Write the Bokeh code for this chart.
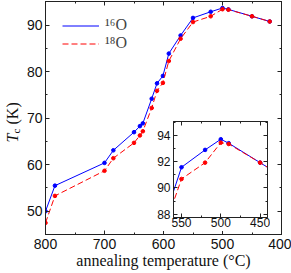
import math
from bokeh.plotting import figure
from bokeh.models import (Range1d, LinearAxis, SingleIntervalTicker, Legend, LegendItem,
                          Label, CustomJSTickFormatter)
from bokeh.embed import file_html
from bokeh.resources import INLINE
from bokeh.core.validation import silence
from bokeh.core.validation.warnings import MISSING_RENDERERS

silence(MISSING_RENDERERS, True)

# ---- data ----
temps = [800, 784, 700, 685, 650, 640, 635, 620, 611, 601, 591, 571, 550, 520, 500, 490, 450, 420]
tc_16O = [50.0, 55.5, 60.4, 63.1, 67.0, 68.3, 68.9, 74.2, 77.5, 79.1, 83.9, 87.8, 91.57, 92.89, 93.7, 93.4, 91.92, 90.8]
tc_18O = [47.5, 53.3, 58.7, 61.4, 64.7, 66.3, 67.2, 72.2, 75.9, 77.6, 82.3, 87.1, 90.68, 91.92, 93.44, 93.34, 91.92, 90.8]
series_labels = ["\u00b9\u2076O", "\u00b9\u2078O"]
x_label = "annealing temperature (\u00b0C)"

BLUE = "#0000ff"
RED = "#ff0000"
AX = "#222222"
SANS = "Liberation Sans"
SERIF = "Liberation Serif"


def style_axis(ax, major, minor_n, font_size, standoff, show_labels=True):
    ax.ticker = SingleIntervalTicker(interval=major, num_minor_ticks=minor_n)
    ax.major_tick_in = 4
    ax.major_tick_out = 0
    ax.minor_tick_in = 2
    ax.minor_tick_out = 0
    ax.axis_line_color = AX
    ax.major_tick_line_color = AX
    ax.minor_tick_line_color = AX
    ax.major_label_text_font = SANS
    ax.major_label_text_color = "#111111"
    ax.major_label_standoff = standoff
    if show_labels:
        ax.major_label_text_font_size = font_size
    else:
        ax.formatter = CustomJSTickFormatter(code="return ''")
        ax.major_label_text_font_size = "0px"
        ax.major_label_standoff = 0


# ---- main figure ----
p = figure(width=291, height=273, output_backend="svg", toolbar_location=None,
           x_range=Range1d(800, 400), y_range=Range1d(45, 95.1),
           min_border_left=45, min_border_right=10, min_border_top=1, min_border_bottom=39,
           background_fill_color="white", border_fill_color="white",
           styles={"position": "absolute", "left": "0px", "top": "0px"})
p.grid.visible = False
p.outline_line_color = AX
style_axis(p.xaxis[0], 100, 2, "14px", 4)
style_axis(p.yaxis[0], 10, 2, "14px", 3)
p.xaxis[0].axis_label = x_label
p.xaxis[0].axis_label_text_font = SERIF
p.xaxis[0].axis_label_text_font_style = "normal"
p.xaxis[0].axis_label_text_font_size = "16px"
p.xaxis[0].axis_label_text_color = "#111111"
p.xaxis[0].axis_label_standoff = 0

top_ax = LinearAxis()
style_axis(top_ax, 100, 2, "0px", 0, show_labels=False)
p.add_layout(top_ax, "above")
right_ax = LinearAxis()
style_axis(right_ax, 10, 2, "0px", 0, show_labels=False)
p.add_layout(right_ax, "right")

MS = 3.6
l16 = p.line(temps, tc_16O, line_color=BLUE, line_width=1)
p.scatter(temps, tc_16O, size=MS, fill_color=BLUE, line_color=BLUE)
l18 = p.line(temps, tc_18O, line_color=RED, line_width=1, line_dash="6 3")
p.scatter(temps, tc_18O, size=MS, fill_color=RED, line_color=RED)

legend = Legend(items=[LegendItem(label=series_labels[0], renderers=[l16]),
                       LegendItem(label=series_labels[1], renderers=[l18])],
                location=(17, 182), padding=0, margin=0, spacing=0,
                glyph_width=37, glyph_height=17, label_height=17, label_standoff=6,
                label_text_font=SERIF, label_text_font_size="16px",
                border_line_color=None, background_fill_alpha=0)
p.add_layout(legend, "center")

# ---- y axis title (italic T, subscript c, (K)) in a small transparent overlay figure ----
t = figure(width=24, height=50, output_backend="svg", toolbar_location=None,
           x_range=Range1d(0, 1), y_range=Range1d(0, 1),
           x_axis_location=None, y_axis_location=None,
           min_border_left=0, min_border_right=0, min_border_top=0, min_border_bottom=0,
           background_fill_alpha=0, border_fill_alpha=0, outline_line_color=None,
           styles={"position": "absolute", "left": "0px", "top": "96px"})
t.grid.visible = False
common = dict(x_units="screen", y_units="screen", angle=math.pi / 2,
              text_font=SERIF, text_color="#111111", text_baseline="alphabetic", text_align="left")
t.add_layout(Label(x=12, y=4, text="T", text_font_size="16px", text_font_style="italic", **common))
t.add_layout(Label(x=15, y=13, text="c", text_font_size="11px", **common))
t.add_layout(Label(x=12, y=22, text="(K)", text_font_size="16px", **common))

# ---- inset ----
q = figure(width=123, height=113, output_backend="svg", toolbar_location=None,
           x_range=Range1d(560.2, 440.6), y_range=Range1d(87.75, 95.05),
           min_border_left=26, min_border_right=3, min_border_top=3, min_border_bottom=14,
           background_fill_color="white", border_fill_color="white",
           styles={"position": "absolute", "left": "147px", "top": "118px"})
q.grid.visible = False
q.outline_line_color = AX
style_axis(q.xaxis[0], 50, 2, "12px", 0)
style_axis(q.yaxis[0], 2, 2, "12px", 3)
qt = LinearAxis()
style_axis(qt, 50, 2, "0px", 0, show_labels=False)
q.add_layout(qt, "above")
qr = LinearAxis()
style_axis(qr, 2, 2, "0px", 0, show_labels=False)
q.add_layout(qr, "right")
q.line(temps, tc_16O, line_color=BLUE, line_width=1)
q.scatter(temps, tc_16O, size=MS, fill_color=BLUE, line_color=BLUE)
q.line(temps, tc_18O, line_color=RED, line_width=1, line_dash="6 3")
q.scatter(temps, tc_18O, size=MS, fill_color=RED, line_color=RED)

open("out.html", "w").write(file_html([p, t, q], INLINE))
